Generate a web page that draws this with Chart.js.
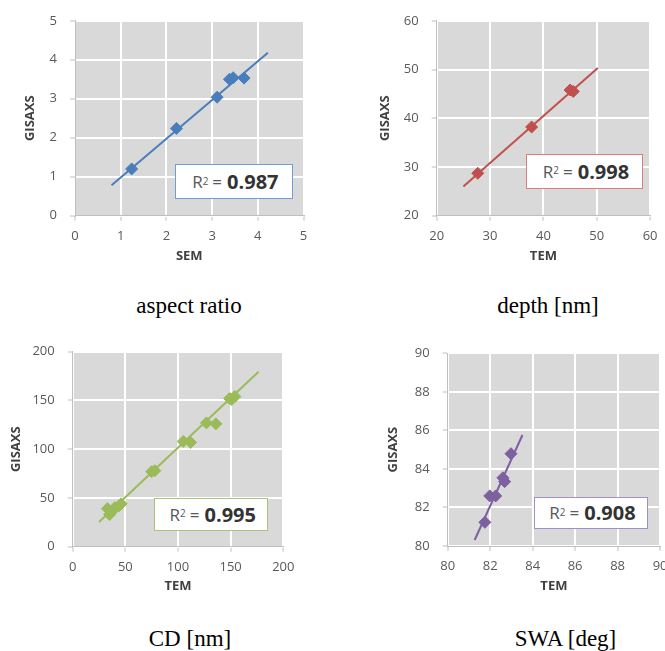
<!DOCTYPE html>
<html><head><meta charset="utf-8">
<script src="https://cdn.jsdelivr.net/npm/chart.js@4"></script>
<style>
html,body{margin:0;padding:0;background:#fff;overflow:hidden;}
#wrap{position:relative;width:665px;height:651px;overflow:hidden;background:#fff;}
canvas{position:absolute;}
.r2{position:absolute;background:#fff;border:1px solid;box-sizing:border-box;display:flex;align-items:center;justify-content:center;font-family:'Open Sans',sans-serif;color:#595959;font-size:17px;white-space:nowrap;padding-left:3px;}
.r2 sup{font-size:10px;position:relative;top:-1px;}
.r2 .eq{margin:0 5px 0 4px;}
.r2 b{font-size:20px;color:#333;font-weight:700;}
.cap{position:absolute;width:240px;text-align:center;font-family:'Liberation Serif','Times New Roman',serif;font-size:23px;line-height:23px;color:#000;white-space:nowrap;}
</style></head><body><div id="wrap"></div>
<script>
// ---- data ----
const aspectSEM     = [1.24, 2.22, 3.11, 3.38, 3.46, 3.70];
const aspectGISAXS  = [1.20, 2.24, 3.04, 3.50, 3.54, 3.53];
const aspectTrendX  = [0.80, 4.22];
const aspectTrendY  = [0.78, 4.18];
const aspectTicksX  = [0, 1, 2, 3, 4, 5];
const aspectTicksY  = [0, 1, 2, 3, 4, 5];

const depthTEM      = [27.7, 37.8, 45.0, 45.6];
const depthGISAXS   = [28.7, 38.2, 45.8, 45.5];
const depthTrendX   = [25.0, 50.2];
const depthTrendY   = [26.0, 50.3];
const depthTicksX   = [20, 30, 40, 50, 60];
const depthTicksY   = [20, 30, 40, 50, 60];

const cdTEM         = [33, 35, 37, 40, 44, 46, 75, 78, 105, 112, 127, 136, 149, 151, 154];
const cdGISAXS      = [39, 33, 36, 40, 42, 44, 77, 78, 108, 107, 127, 126, 152, 151, 154];
const cdTrendX      = [25, 176.5];
const cdTrendY      = [25.3, 179.5];
const cdTicksX      = [0, 50, 100, 150, 200];
const cdTicksY      = [0, 50, 100, 150, 200];

const swaTEM        = [81.75, 81.98, 82.26, 82.60, 82.68, 82.98];
const swaGISAXS     = [81.23, 82.60, 82.60, 83.54, 83.34, 84.79];
const swaTrendX     = [81.27, 83.52];
const swaTrendY     = [80.31, 85.76];
const swaTicksX     = [80, 82, 84, 86, 88, 90];
const swaTicksY     = [80, 82, 84, 86, 88, 90];

const r2Values      = ['0.987', '0.998', '0.995', '0.908'];
const captions      = ['aspect ratio', 'depth [nm]', 'CD [nm]', 'SWA [deg]'];
const xTitles       = ['SEM', 'TEM', 'TEM', 'TEM'];
const yTitle        = 'GISAXS';

// ---- layout / style ----
const FONT = "'Open Sans', sans-serif";
const panels = [
  {xs: aspectSEM, ys: aspectGISAXS, tx: aspectTrendX, ty: aspectTrendY, tX: aspectTicksX, tY: aspectTicksY,
   color: '#4a7ebb', boxColor: '#6d9fd6',
   g: {cx:0, cy:0, cw:330, ch:290, L:75, R:303.5, T:15.7, B:215.7, yTitleX:30, xTitleY:256.7},
   box: {x:175, y:164.3, w:117.7, h:34.7}, cap: {x:189, base:313}},
  {xs: depthTEM, ys: depthGISAXS, tx: depthTrendX, ty: depthTrendY, tX: depthTicksX, tY: depthTicksY,
   color: '#c0504d', boxColor: '#d87f7c',
   g: {cx:330, cy:0, cw:335, ch:290, L:436.7, R:654, T:15.7, B:215.7, yTitleX:385, xTitleY:256.7},
   box: {x:525.7, y:154.3, w:117.6, h:34.4}, cap: {x:548, base:313}},
  {xs: cdTEM, ys: cdGISAXS, tx: cdTrendX, ty: cdTrendY, tX: cdTicksX, tY: cdTicksY,
   color: '#9bbb59', boxColor: '#a9c47a',
   g: {cx:0, cy:300, cw:330, ch:320, L:72.7, R:283.3, T:351.7, B:546.7, yTitleX:16, xTitleY:586.7},
   box: {x:154.3, y:497.7, w:114, h:33}, cap: {x:190, base:646}},
  {xs: swaTEM, ys: swaGISAXS, tx: swaTrendX, ty: swaTrendY, tX: swaTicksX, tY: swaTicksY,
   color: '#7d60a0', boxColor: '#a48fc4',
   g: {cx:330, cy:300, cw:345, ch:320, L:447.7, R:664.3, T:353.3, B:546, yTitleX:393.3, xTitleY:586.7},
   box: {x:533.7, y:496.7, w:114.6, h:32.6}, cap: {x:565.5, base:646}}
];

const plotBg = {
  id: 'plotBg',
  beforeDraw(chart) {
    const {ctx, chartArea: a} = chart;
    ctx.save();
    ctx.fillStyle = '#d9d9d9';
    ctx.fillRect(a.left, a.top, a.right - a.left, a.bottom - a.top);
    ctx.restore();
  }
};

const wrap = document.getElementById('wrap');

panels.forEach((p, i) => {
  const g = p.g;
  const c = document.createElement('canvas');
  c.width = g.cw; c.height = g.ch;
  c.style.left = g.cx + 'px'; c.style.top = g.cy + 'px';
  c.style.width = g.cw + 'px'; c.style.height = g.ch + 'px';
  wrap.appendChild(c);

  const lh = 13 * 1.2;
  const axisLeft = g.yTitleX - lh / 2 - g.cx;
  const yw = (g.L - g.cx) - axisLeft;
  const axisBottom = g.xTitleY + lh / 2 - g.cy;
  const xh = axisBottom - (g.B - g.cy);

  const tickFont = {family: FONT, size: 13};
  const titleFont = {family: FONT, size: 13, weight: 'bold'};
  const common = {
    type: 'linear',
    grid: {color: '#ffffff', lineWidth: 2, tickLength: 5, tickColor: '#bfbfbf', tickWidth: 1},
    border: {color: '#bfbfbf', width: 1},
  };

  new Chart(c, {
    type: 'scatter',
    data: {
      datasets: [
        {
          data: p.xs.map((x, k) => ({x, y: p.ys[k]})),
          pointStyle: 'rectRot', pointRadius: 6, pointHoverRadius: 6,
          backgroundColor: p.color, borderColor: p.color, borderWidth: 1
        },
        {
          data: p.tx.map((x, k) => ({x, y: p.ty[k]})),
          showLine: true, pointRadius: 0, pointHoverRadius: 0,
          borderColor: p.color, borderWidth: 2, backgroundColor: p.color, fill: false
        }
      ]
    },
    options: {
      responsive: false, animation: false, devicePixelRatio: 1,
      layout: {
        autoPadding: false,
        padding: {left: axisLeft, top: g.T - g.cy, right: g.cx + g.cw - g.R, bottom: g.ch - axisBottom}
      },
      plugins: {legend: {display: false}, tooltip: {enabled: false}},
      scales: {
        x: Object.assign({}, common, {
          min: p.tX[0], max: p.tX[p.tX.length - 1],
          ticks: {stepSize: p.tX[1] - p.tX[0], color: '#595959', font: tickFont, padding: 7.5, maxRotation: 0, autoSkip: false},
          title: {display: true, text: xTitles[i], color: '#404040', font: titleFont, padding: 0},
          afterFit: s => { s.height = xh; }
        }),
        y: Object.assign({}, common, {
          min: p.tY[0], max: p.tY[p.tY.length - 1],
          ticks: {stepSize: p.tY[1] - p.tY[0], color: '#595959', font: tickFont, padding: 13, autoSkip: false},
          title: {display: true, text: yTitle, color: '#404040', font: titleFont, padding: 0},
          afterFit: s => { s.width = yw; }
        })
      }
    },
    plugins: [plotBg]
  });

  const b = document.createElement('div');
  b.className = 'r2';
  b.style.left = p.box.x + 'px'; b.style.top = p.box.y + 'px';
  b.style.width = p.box.w + 'px'; b.style.height = p.box.h + 'px';
  b.style.borderColor = p.boxColor;
  b.innerHTML = 'R<sup>2</sup><span class="eq">=</span><b>' + r2Values[i] + '</b>';
  wrap.appendChild(b);

  const cp = document.createElement('div');
  cp.className = 'cap';
  cp.style.left = (p.cap.x - 120) + 'px';
  cp.style.top = (p.cap.base - 19.2) + 'px';
  cp.textContent = captions[i];
  wrap.appendChild(cp);
});
</script>
</body></html>
